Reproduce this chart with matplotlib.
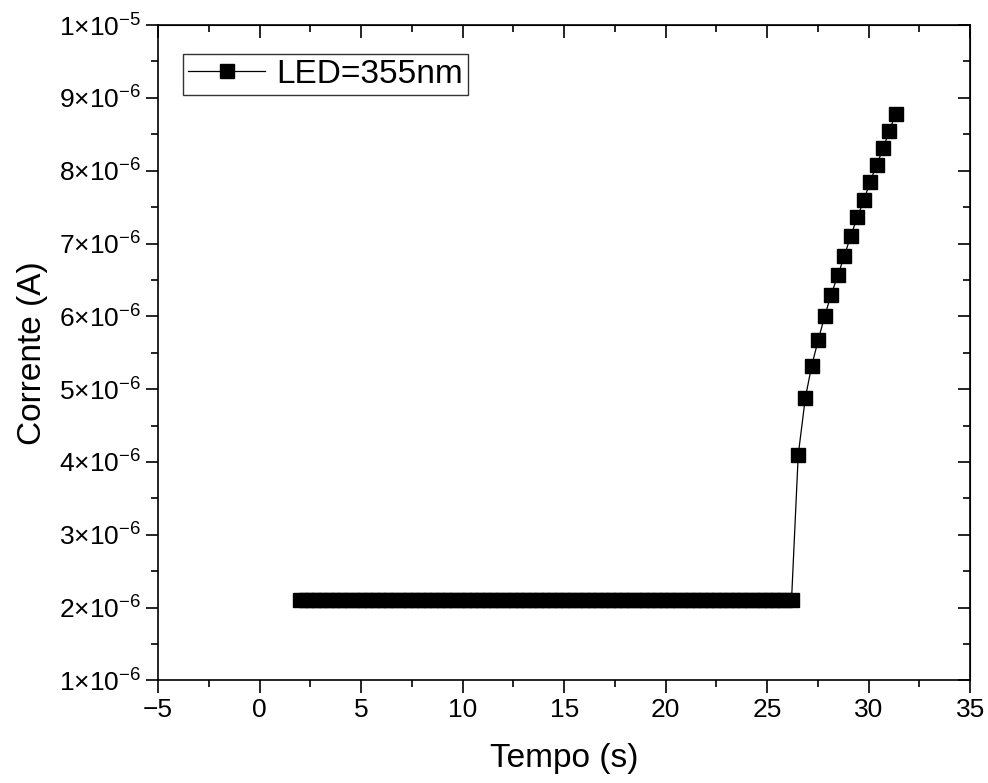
import numpy as np
import matplotlib

matplotlib.use('Agg')
import matplotlib.pyplot as plt
from matplotlib.ticker import FuncFormatter, MultipleLocator

plt.rcParams['font.family'] = ['Liberation Sans', 'DejaVu Sans']
plt.rcParams['mathtext.fontset'] = 'custom'
plt.rcParams['mathtext.rm'] = 'Liberation Sans'
plt.rcParams['mathtext.it'] = 'Liberation Sans'
plt.rcParams['mathtext.bf'] = 'Liberation Sans'

# tempo (s) e corrente (A)
tempo = [
    1.97, 2.29, 2.62, 2.94, 3.26, 3.59, 3.91, 4.23, 4.55, 4.88,
    5.20, 5.52, 5.85, 6.17, 6.49, 6.82, 7.14, 7.46, 7.78, 8.11,
    8.43, 8.75, 9.08, 9.40, 9.72, 10.05, 10.37, 10.69, 11.01, 11.34,
    11.66, 11.98, 12.31, 12.63, 12.95, 13.28, 13.60, 13.92, 14.24, 14.57,
    14.89, 15.21, 15.54, 15.86, 16.18, 16.51, 16.83, 17.15, 17.47, 17.80,
    18.12, 18.44, 18.77, 19.09, 19.41, 19.74, 20.06, 20.38, 20.70, 21.03,
    21.35, 21.67, 22.00, 22.32, 22.64, 22.97, 23.29, 23.61, 23.93, 24.26,
    24.58, 24.90, 25.23, 25.55, 25.87, 26.20,
    26.53, 26.88, 27.19, 27.52, 27.83, 28.14, 28.49, 28.80, 29.11, 29.44,
    29.77, 30.06, 30.39, 30.72, 31.01, 31.34,
]
corrente_uA = [
    2.11, 2.11, 2.11, 2.11, 2.11, 2.11, 2.11, 2.11, 2.11, 2.11,
    2.11, 2.11, 2.11, 2.11, 2.11, 2.11, 2.11, 2.11, 2.11, 2.11,
    2.11, 2.11, 2.11, 2.11, 2.11, 2.11, 2.11, 2.11, 2.11, 2.11,
    2.11, 2.11, 2.11, 2.11, 2.11, 2.11, 2.11, 2.11, 2.11, 2.11,
    2.11, 2.11, 2.11, 2.11, 2.11, 2.11, 2.11, 2.11, 2.11, 2.11,
    2.11, 2.11, 2.11, 2.11, 2.11, 2.11, 2.11, 2.11, 2.11, 2.11,
    2.11, 2.11, 2.11, 2.11, 2.11, 2.11, 2.11, 2.11, 2.11, 2.11,
    2.11, 2.11, 2.11, 2.11, 2.11, 2.11,
    4.10, 4.88, 5.32, 5.68, 6.00, 6.29, 6.57, 6.83, 7.10, 7.36,
    7.60, 7.84, 8.08, 8.31, 8.55, 8.78,
]
corrente = np.array(corrente_uA) * 1e-6


def sci_fmt(v, pos):
    if v <= 0:
        return ''
    exp = int(np.floor(np.log10(v) + 1e-9))
    mant = v / 10 ** exp
    return r'$%d{\times}10^{%d}$' % (round(mant), exp)


fig = plt.figure(figsize=(9.88, 7.83), dpi=100)
ax = fig.add_axes([0.160, 0.131, 0.822, 0.837])

ax.plot(tempo, corrente, color='black', lw=0.9, marker='s', ms=10,
        markeredgecolor='black', markerfacecolor='black', label='LED=355nm')

ax.set_xlim(-5, 35)
ax.set_ylim(1e-6, 1e-5)
ax.xaxis.set_major_locator(MultipleLocator(5))
ax.xaxis.set_minor_locator(MultipleLocator(2.5))
ax.yaxis.set_major_locator(MultipleLocator(1e-6))
ax.yaxis.set_minor_locator(MultipleLocator(0.5e-6))
ax.yaxis.set_major_formatter(FuncFormatter(sci_fmt))
ax.xaxis.set_major_formatter(FuncFormatter(lambda v, p: ('\u2212%g' % -v) if v < 0 else '%g' % v))

ax.tick_params(which='both', direction='out', labelsize=19, width=1.2,
               top=False, right=False)
ax.tick_params(which='major', length=9)
ax.tick_params(which='minor', length=5)
for s in ax.spines.values():
    s.set_linewidth(1.2)

# ticks internos no topo e na direita
ax_top = ax.secondary_xaxis('top')
ax_top.xaxis.set_major_locator(MultipleLocator(5))
ax_top.xaxis.set_minor_locator(MultipleLocator(2.5))
ax_top.tick_params(which='both', direction='in', labeltop=False, width=1.2)
ax_top.tick_params(which='major', length=9)
ax_top.tick_params(which='minor', length=5)
ax_right = ax.secondary_yaxis('right')
ax_right.yaxis.set_major_locator(MultipleLocator(1e-6))
ax_right.yaxis.set_minor_locator(MultipleLocator(0.5e-6))
ax_right.tick_params(which='both', direction='in', labelright=False, width=1.2)
ax_right.tick_params(which='major', length=9)
ax_right.tick_params(which='minor', length=5)

ax.set_xlabel('Tempo (s)', fontsize=24, labelpad=15)
ax.set_ylabel('Corrente (A)', fontsize=24, labelpad=8)

leg = ax.legend(loc='upper left', fontsize=24, frameon=True, fancybox=False,
                handlelength=2.3, borderpad=0.15, handletextpad=0.35,
                borderaxespad=0, bbox_to_anchor=(0.031, 0.956))
leg.get_frame().set_edgecolor('black')
leg.get_frame().set_linewidth(1.0)

fig.savefig('out.png', dpi=100)
